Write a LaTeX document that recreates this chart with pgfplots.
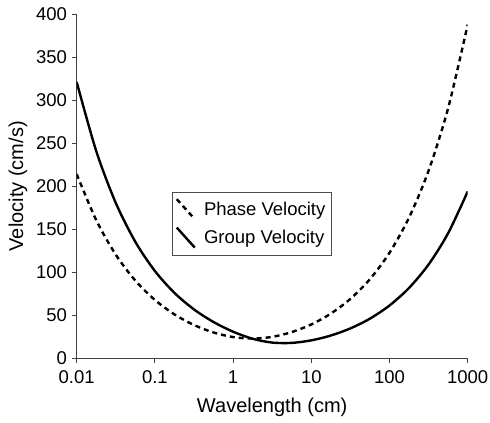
\documentclass[border=0pt]{standalone}
\usepackage{fontspec}
\setmainfont{Liberation Sans}
\usepackage{pgfplots}
\pgfplotsset{compat=1.18}

% wavelength (cm), phase velocity, group velocity (cm/s)
\pgfplotstableread{
lam      cp      cg
0.01     214.17  321.25
0.017783 160.61  240.90
0.031623 120.45  180.65
0.056234 90.36   135.45
0.1      67.84   101.53
0.17783  51.05   76.05
0.31623  38.71   56.83
0.56234  30.01   42.19
1        24.68   30.92
1.7783   22.93   22.71
3.1623   24.92   18.28
5.6234   30.47   17.91
10       39.39   20.86
17.783   51.99   26.49
31.623   69.11   34.76
56.234   92.06   46.12
100      122.72  61.40
177.83   163.64  81.83
316.23   218.20  109.11
562.34   290.98  145.49
1000     388.02  194.01
}\wavetable

\begin{document}
\begin{tikzpicture}
\useasboundingbox (-76.7pt,-64.7pt) rectangle (413.3pt,358.3pt);
\begin{axis}[
    scale only axis,
    width=391pt, height=344pt,
    font=\fontsize{18.5}{22}\selectfont,
    xmode=log,
    xmin=0.01, xmax=1000,
    ymin=0, ymax=400,
    axis lines*=left,
    axis line style={line width=0.8pt, black!75},
    xtick={0.01,0.1,1,10,100,1000},
    xticklabels={0.01,0.1,1,10,100,1000},
    xminorticks=false,
    ytick={0,50,...,400},
    tick align=outside,
    major tick length=4.5pt,
    tick style={line width=0.8pt, black!75},
    /pgf/number format/assume math mode=true,
    xticklabel style={font=\fontsize{18.5}{22}\selectfont, inner sep=1pt, yshift=-6.5pt},
    yticklabel style={font=\fontsize{18.5}{22}\selectfont, inner sep=1pt, xshift=-4pt},
    label style={font=\fontsize{20}{24}\selectfont},
    xlabel={Wavelength (cm)},
    ylabel={Velocity (cm/s)},
    xlabel style={at={(axis description cs:0.5,0)}, anchor=north, yshift=-36pt},
    ylabel style={at={(axis description cs:0,0.5)}, anchor=center, yshift=58.7pt},
    legend style={at={(0.2445,0.4843)}, anchor=north west,
        draw=black!70, line width=0.6pt,
        font=\fontsize{18.5}{22}\selectfont,
        inner xsep=3pt, inner ysep=6pt,
        row sep=6pt, column sep=5pt,
        nodes={inner xsep=3pt, inner ysep=2pt}},
    legend cell align=left,
    legend image code/.code={\draw[#1] (0pt,10pt) -- (18pt,-10pt);},
]
\addplot[black, line width=2.4pt, dash pattern=on 5pt off 4pt, smooth]
    table[x=lam, y=cp] {\wavetable};
\addlegendentry{Phase Velocity}
\addplot[black, line width=2.4pt, smooth]
    table[x=lam, y=cg] {\wavetable};
\addlegendentry{Group Velocity}
\end{axis}
\end{tikzpicture}
\end{document}
